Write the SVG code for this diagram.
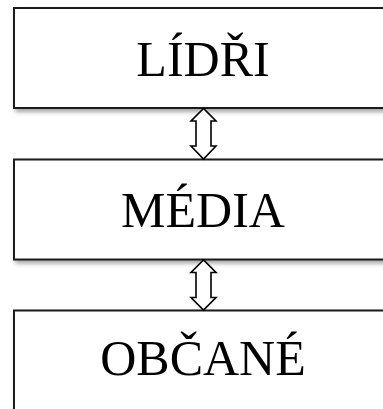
<svg xmlns="http://www.w3.org/2000/svg" width="383" height="409" viewBox="0 0 383 409">
<style>
.box{fill:#fff;stroke:#1a1a1a;stroke-width:2;filter:url(#sh)}
.lbl{font-family:"Liberation Serif","Times New Roman",serif;font-size:50px;fill:#000;text-anchor:middle}
.arr{fill:#fff;stroke:#000;stroke-width:1.6;stroke-linejoin:miter}
</style>
<defs>
<filter id="sh" x="-10%" y="-20%" width="130%" height="150%">
<feDropShadow dx="2" dy="3" stdDeviation="2" flood-color="#000" flood-opacity="0.35"/>
</filter>
</defs>
<g id="lidri">
<rect class="box" x="14" y="8" width="380" height="100"/>
<text class="lbl" x="203" y="76">LÍDŘI</text>
</g>
<g id="media">
<rect class="box" x="14" y="159.5" width="380" height="100"/>
<text class="lbl" x="203" y="227">MÉDIA</text>
</g>
<g id="obcane">
<rect class="box" x="14" y="310.5" width="380" height="110"/>
<text class="lbl" x="203" y="375">OBČANÉ</text>
</g>
<g id="connectors">
<path class="arr" d="M203.5,108.5 L191,121 L196,121 L196,146 L191,146 L203.5,159 L216,146 L211,146 L211,121 L216,121 Z"/>
<path class="arr" d="M203.5,260 L191,272.5 L196,272.5 L196,297.5 L191,297.5 L203.5,310 L216,297.5 L211,297.5 L211,272.5 L216,272.5 Z"/>
</g>
</svg>
